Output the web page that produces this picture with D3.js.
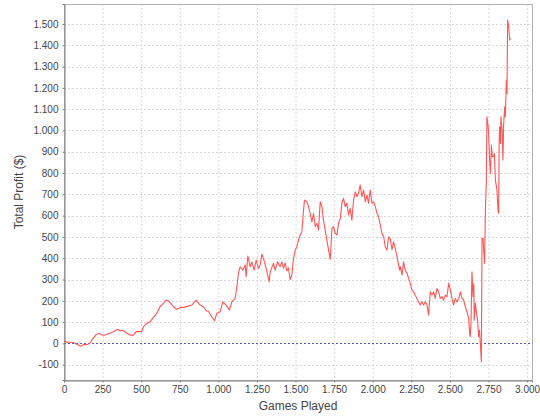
<!DOCTYPE html>
<html>
<head>
<meta charset="utf-8">
<script src="https://cdn.jsdelivr.net/npm/d3@7"></script>
<style>
body { margin: 0; background: #fff; }
text { font-family: "Liberation Sans", Arial, sans-serif; }
</style>
</head>
<body>
<div id="chart"></div>
<script>
// svg size
var width = 540, height = 420;
var margin = {left: 64, top: 4, right: 8, bottom: 40};

// data
var games = [0, 20, 45, 60, 80, 108, 128, 150, 170, 185, 205, 223, 250, 270, 298, 320, 346, 363, 380, 402,
    428, 450, 467, 492, 504, 514, 536, 558, 579, 601, 622, 644, 661, 677, 698, 709, 730, 752, 774, 806,
    828, 856, 882, 903, 921, 936, 957, 975, 990, 1011, 1029, 1050, 1072, 1087, 1109, 1120, 1130, 1141, 1159, 1174,
    1180, 1191, 1206, 1217, 1232, 1245, 1260, 1271, 1282, 1292, 1310, 1329, 1336, 1357, 1368, 1383, 1400, 1411, 1422, 1433,
    1444, 1454, 1465, 1476, 1487, 1498, 1509, 1519, 1530, 1541, 1552, 1558, 1574, 1584, 1595, 1606, 1617, 1628, 1639, 1649,
    1660, 1671, 1681, 1699, 1714, 1725, 1736, 1746, 1757, 1768, 1779, 1790, 1800, 1811, 1822, 1833, 1843, 1854, 1865, 1876,
    1887, 1898, 1908, 1919, 1930, 1941, 1952, 1963, 1973, 1984, 1995, 2006, 2017, 2028, 2038, 2049, 2060, 2071, 2081, 2092,
    2103, 2114, 2125, 2135, 2146, 2157, 2174, 2179, 2190, 2200, 2211, 2222, 2233, 2243, 2254, 2265, 2276, 2287, 2297, 2308,
    2319, 2330, 2341, 2352, 2362, 2373, 2384, 2395, 2405, 2416, 2427, 2438, 2449, 2459, 2470, 2481, 2492, 2503, 2514, 2524,
    2535, 2546, 2557, 2568, 2579, 2589, 2600, 2611, 2622, 2628, 2632, 2637, 2643, 2650, 2655, 2658, 2665, 2671, 2680, 2686,
    2692, 2697, 2704, 2708, 2715, 2719, 2725, 2730, 2736, 2740, 2747, 2751, 2757, 2763, 2769, 2774, 2781, 2788, 2795, 2805,
    2812, 2816, 2819, 2822, 2828, 2831, 2838, 2844, 2848, 2855, 2859, 2866, 2870, 2874, 2881, 2887, 2892];

var profit = [10, 6, 5, 4, -3, -13, -5, -6, 3, 20, 39, 47, 38, 40, 48, 55, 66, 59, 62, 50,
    39, 39, 55, 55, 55, 78, 94, 101, 122, 141, 172, 188, 203, 200, 182, 172, 160, 169, 169, 175,
    180, 203, 180, 172, 153, 150, 125, 106, 141, 148, 195, 180, 156, 195, 211, 266, 329, 360, 344, 368,
    313, 410, 360, 383, 344, 391, 352, 368, 419, 399, 352, 289, 336, 376, 344, 383, 360, 383, 352, 378,
    340, 355, 300, 321, 399, 438, 454, 485, 509, 524, 626, 673, 665, 642, 611, 571, 611, 548, 564, 532,
    665, 642, 579, 501, 438, 395, 540, 548, 517, 509, 564, 587, 658, 681, 642, 658, 603, 634, 579, 673,
    712, 689, 705, 744, 689, 720, 665, 697, 658, 720, 658, 665, 642, 611, 595, 556, 517, 501, 454, 438,
    501, 490, 440, 477, 446, 410, 344, 360, 321, 383, 344, 329, 305, 282, 250, 242, 225, 211, 195, 180,
    195, 180, 195, 180, 133, 242, 227, 242, 211, 258, 242, 211, 219, 203, 227, 219, 282, 250, 211, 180,
    211, 195, 211, 242, 211, 203, 172, 148, 117, 47, 31, 101, 336, 219, 280, 109, 188, 148, 109, 31,
    62, 0, -86, 493, 493, 438, 376, 626, 759, 1064, 1025, 986, 861, 798, 931, 877, 877, 892, 767, 720,
    626, 611, 939, 1017, 939, 1064, 1002, 861, 1025, 1111, 1064, 1237, 1174, 1519, 1487, 1425, 1433];

// tick values
var xTicks = d3.range(0, 3001, 250);
var yTicks = d3.range(-100, 1501, 100);

var locale = d3.formatLocale({decimal: ",", thousands: ".", grouping: [3], currency: ["", "$"], minus: "-"});
var fmt = locale.format(",d");

var data = games.map(function(g, i){ return {g: g, p: profit[i]}; });

var x = d3.scaleLinear().domain([0, 3032]).range([margin.left, width - margin.right]);
var y = d3.scaleLinear().domain([-172, 1594]).range([height - margin.bottom, margin.top]);

var svg = d3.select("#chart")
            .append("svg")
            .attr("width", width)
            .attr("height", height);

svg.append("rect")
    .attr("width", width).attr("height", height)
    .attr("fill", "#fff");

// grid lines
svg.append("g").selectAll("line.vg")
    .data(xTicks)
    .enter()
        .append("line")
        .attr("x1", function(d){ return x(d) + 0.5; })
        .attr("x2", function(d){ return x(d) + 0.5; })
        .attr("y1", margin.top)
        .attr("y2", height - margin.bottom)
        .attr("stroke", "#d8d8d8")
        .attr("stroke-dasharray", "2,2");

svg.append("g").selectAll("line.hg")
    .data(yTicks)
    .enter()
        .append("line")
        .attr("x1", margin.left)
        .attr("x2", width - margin.right)
        .attr("y1", function(d){ return Math.round(y(d)) + 0.5; })
        .attr("y2", function(d){ return Math.round(y(d)) + 0.5; })
        .attr("stroke", "#d8d8d8")
        .attr("stroke-dasharray", "2,2");

// plot outline
svg.append("rect")
    .attr("x", margin.left + 0.5)
    .attr("y", margin.top + 0.5)
    .attr("width", width - margin.right - margin.left)
    .attr("height", height - margin.bottom - margin.top)
    .attr("fill", "none")
    .attr("stroke", "#b0b0b0");

// zero line
svg.append("line")
    .attr("x1", margin.left)
    .attr("x2", width - margin.right)
    .attr("y1", Math.round(y(0)) + 0.5)
    .attr("y2", Math.round(y(0)) + 0.5)
    .attr("stroke", "#5656c8")
    .attr("stroke-dasharray", "2,2");

// series line
var line = d3.line()
            .x(function(d){ return x(d.g); })
            .y(function(d){ return y(d.p); });

svg.append("path")
    .datum(data)
    .attr("d", line)
    .attr("fill", "none")
    .attr("stroke", "#ff5555")
    .attr("stroke-width", 1.1)
    .attr("stroke-linejoin", "round");

// axes
var xAxis = d3.axisBottom(x).tickValues(xTicks).tickFormat(fmt).tickSize(2).tickPadding(3);
var yAxis = d3.axisLeft(y).tickValues(yTicks).tickFormat(fmt).tickSize(2).tickPadding(4);

var gx = svg.append("g")
    .attr("transform", "translate(0," + (height - margin.bottom + 0.5) + ")")
    .call(xAxis);
var gy = svg.append("g")
    .attr("transform", "translate(" + (margin.left + 0.5) + ",0)")
    .call(yAxis);

[gx, gy].forEach(function(g){
    g.select(".domain").attr("stroke", "#808080");
    g.selectAll(".tick line").attr("stroke", "#808080");
    g.selectAll(".tick text")
        .attr("fill", "#444")
        .style("font-family", "'Liberation Sans', Arial, sans-serif")
        .style("font-size", "10px");
});

// axis labels
svg.append("text")
    .attr("x", (margin.left + width - margin.right) / 2)
    .attr("y", 410)
    .attr("text-anchor", "middle")
    .attr("fill", "#444")
    .style("font-size", "12px")
    .text("Games Played");

svg.append("text")
    .attr("transform", "translate(23," + (margin.top + height - margin.bottom) / 2 + ") rotate(-90)")
    .attr("text-anchor", "middle")
    .attr("fill", "#444")
    .style("font-size", "12px")
    .text("Total Profit ($)");
</script>
</body>
</html>
